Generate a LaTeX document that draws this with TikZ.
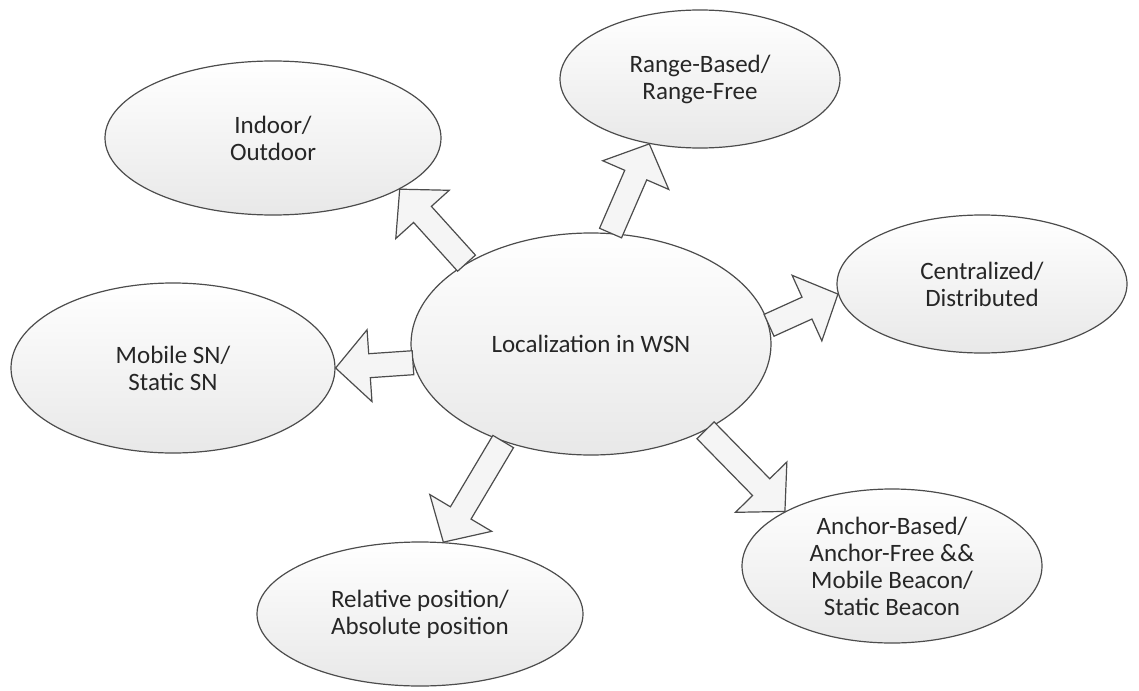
\documentclass[tikz,border=0pt]{standalone}
\usepackage{fontspec}
\setmainfont{Carlito}
\usetikzlibrary{shapes.geometric,calc}
\tikzset{
  bubble/.style={ellipse, draw=black!70, line width=0.6pt, top color=white, bottom color=black!9,
    inner sep=0pt, align=center, text=black!85, font=\fontsize{12.5}{13.5}\selectfont},
  blockarrow/.style={draw=black!70, line width=0.6pt, fill=black!4, line join=miter}
}
\newcommand{\blockarrow}[2]{%
  \coordinate (ba-h) at ($(#2)!17pt!(#1)$);
  \draw[blockarrow] ($(#1)!6pt!-90:(#2)$) -- ($(ba-h)!6pt!-90:(#2)$) -- ($(ba-h)!18pt!-90:(#2)$)
    -- (#2) -- ($(ba-h)!18pt!90:(#2)$) -- ($(ba-h)!6pt!90:(#2)$) -- ($(#1)!6pt!90:(#2)$) -- cycle;}
\begin{document}
\begin{tikzpicture}[x=0.5pt, y=-0.5pt]
        \useasboundingbox (0,0) rectangle (1139,690);
        \node[bubble, minimum width=180pt, minimum height=111pt] (loc) at (591,344) {Localization in WSN};
        \node[bubble, minimum width=168pt, minimum height=77pt] (indoor) at (273,138) {Indoor/\\Outdoor};
        \node[bubble, minimum width=140pt, minimum height=69pt] (range) at (700,79) {Range-Based/\\Range-Free};
        \node[bubble, minimum width=145pt, minimum height=69pt] (central) at (982,284) {Centralized/\\Distributed};
        \node[bubble, minimum width=162pt, minimum height=85pt] (mobile) at (173,368) {Mobile SN/\\Static SN};
        \node[bubble, minimum width=163pt, minimum height=72pt] (relative) at (420,614) {Relative position/\\Absolute position};
        \node[bubble, minimum width=150pt, minimum height=77pt] (anchor) at (892,566) {Anchor-Based/\\Anchor-Free \&\&\\Mobile Beacon/\\Static Beacon};
        \blockarrow{loc.147}{indoor.-22}
        \blockarrow{loc.80}{range.232}
        \blockarrow{loc.6}{central.184}
        \blockarrow{loc.186}{mobile.0}
        \blockarrow{loc.228}{relative.72}
        \blockarrow{loc.-37}{anchor.153}
\end{tikzpicture}
\end{document}
